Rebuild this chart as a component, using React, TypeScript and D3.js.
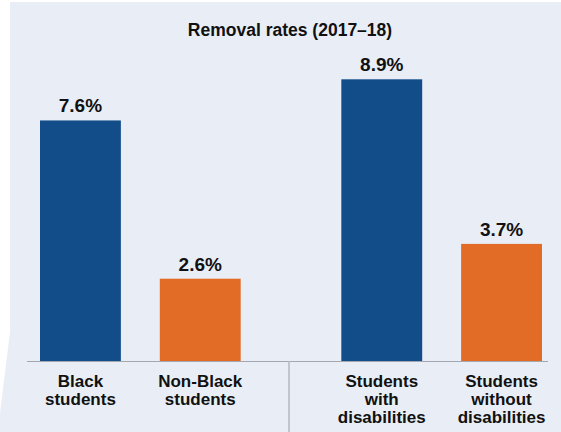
import React from "react";
import * as d3 from "d3";

const title = "Removal rates (2017–18)";
const groups = ["race", "disability"];
const categoryGroups = ["race", "race", "disability", "disability"];
const categoryLabels = [
  ["Black", "students"],
  ["Non-Black", "students"],
  ["Students", "with", "disabilities"],
  ["Students", "without", "disabilities"],
];
const values = [7.6, 2.6, 8.9, 3.7];
const barColors = ["#124c89", "#e26b25", "#124c89", "#e26b25"];

const W = 561;
const H = 432;
const FONT = "'Liberation Sans', Arial, Helvetica, sans-serif";

export default function App() {
  const baseline = 361;
  const y = d3.scaleLinear().domain([0, 8.9]).range([baseline, 79.3]);
  const outer = d3.scaleBand<string>().domain(groups).range([40, 542]).paddingInner(0.334);
  const inner = d3.scaleBand<number>().domain([0, 1]).range([0, outer.bandwidth()]).paddingInner(0.325);
  const fmt = d3.format(".1f");

  const bars = values.map((v, i) => {
    const g = categoryGroups[i];
    const idx = categoryGroups.slice(0, i).filter((c) => c === g).length;
    const x0 = (outer(g) ?? 0) + (inner(idx) ?? 0);
    return { v, i, x0, w: inner.bandwidth(), cx: x0 + inner.bandwidth() / 2 };
  });

  const dividerX = (outer(groups[1]) ?? 0) - (outer.step() * outer.paddingInner()) / 2 - 2;

  return (
    <svg width={W} height={H} style={{ position: "absolute", left: 0, top: 0 }} fontFamily={FONT}>
      <rect x={0} y={0} width={W} height={H} fill="#ffffff" />
      <rect x={10} y={2} width={W - 10} height={H - 2} fill="#e9eef6" />
      <polygon points="10,332 0,413 0,432 10,432" fill="#e9eef6" />
      <text x={290} y={36} textAnchor="middle" fontSize={17.5} fontWeight="bold" fill="#111">
        {title}
      </text>
      {bars.map((b) => (
        <g key={b.i}>
          <rect x={b.x0} y={y(b.v)} width={b.w} height={baseline - y(b.v)} fill={barColors[b.i]} />
          <text x={b.cx} y={y(b.v) - 8} textAnchor="middle" fontSize={19} fontWeight="bold" fill="#111">
            {fmt(b.v) + "%"}
          </text>
          <text textAnchor="middle" fontSize={17} fontWeight="bold" fill="#111">
            {categoryLabels[b.i].map((line, k) => (
              <tspan key={k} x={b.cx} y={387 + k * 17.8}>
                {line}
              </tspan>
            ))}
          </text>
        </g>
      ))}
      <line x1={27} x2={548} y1={baseline + 0.5} y2={baseline + 0.5} stroke="#a3a8b0" strokeWidth={1.2} />
      <line x1={dividerX} x2={dividerX} y1={baseline} y2={H} stroke="#b3b7bf" strokeWidth={1.5} />
    </svg>
  );
}
